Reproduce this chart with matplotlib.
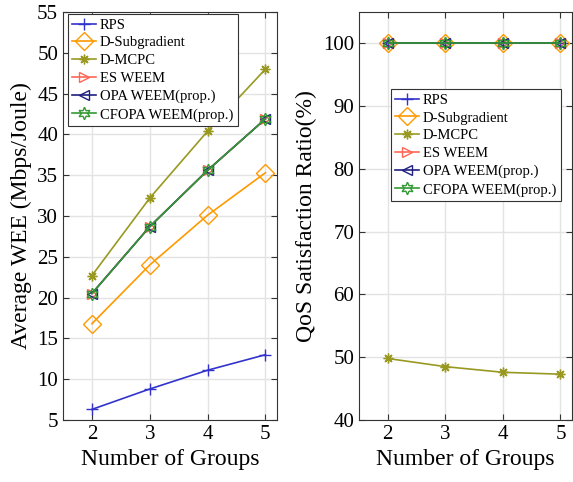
import matplotlib
matplotlib.use("Agg")
import matplotlib.pyplot as plt

# datos
grupos = [2, 3, 4, 5]
wee_rps = [6.3, 8.8, 11.1, 13.0]
wee_dsub = [16.8, 24.0, 30.1, 35.3]
wee_dmcpc = [22.7, 32.2, 40.4, 48.0]
wee_es = [20.5, 28.7, 35.6, 41.9]
wee_opa = [20.5, 28.7, 35.6, 41.9]
wee_cfopa = [20.5, 28.7, 35.6, 41.9]

qos_rps = [100, 100, 100, 100]
qos_dsub = [100, 100, 100, 100]
qos_dmcpc = [49.8, 48.5, 47.6, 47.3]
qos_es = [100, 100, 100, 100]
qos_opa = [100, 100, 100, 100]
qos_cfopa = [100, 100, 100, 100]

etiquetas = ["RPS", "D-Subgradient", "D-MCPC", "ES WEEM",
             "OPA WEEM(prop.)", "CFOPA WEEM(prop.)"]

estilos = [
    dict(color="#3333cc", marker="+", ms=9, mew=1.0),
    dict(color="#ff9900", marker="D", ms=9.5, mfc="none", mew=1.0),
    dict(color="#999922", marker=(8, 2, 0), ms=7, mew=1.0),
    dict(color="#ff6655", marker=">", ms=7, mfc="none", mew=1.0),
    dict(color="#1f1f80", marker="<", ms=7, mfc="none", mew=1.0),
    dict(color="#339933", marker=(6, 1, 0), ms=9, mfc="none", mew=1.0),
]

plt.rcParams["font.family"] = "Liberation Serif"

fig = plt.figure(figsize=(5.73, 4.82), dpi=100)
ax1 = fig.add_axes([63 / 573, 1 - 420 / 482, 214 / 573, 408 / 482])
ax2 = fig.add_axes([359 / 573, 1 - 420 / 482, 213 / 573, 408 / 482])

series1 = [wee_rps, wee_dsub, wee_dmcpc, wee_es, wee_opa, wee_cfopa]
series2 = [qos_rps, qos_dsub, qos_dmcpc, qos_es, qos_opa, qos_cfopa]

for ax, datos in [(ax1, series1), (ax2, series2)]:
    for y, lab, st in zip(datos, etiquetas, estilos):
        ax.plot(grupos, y, lw=1.2, label=lab, **st)
    ax.set_xlim(1.5, 5.2)
    ax.set_xticks(grupos)
    ax.grid(True, color="#e3e3e3", lw=1.0)
    ax.set_axisbelow(True)
    ax.tick_params(direction="in", top=True, right=True, labelsize=15,
                   length=4, color="#333333")
    for s in ax.spines.values():
        s.set_color("#333333")
    ax.set_xlabel("Number of Groups", fontsize=17)

ax1.set_ylim(5, 55)
ax1.set_yticks(range(5, 56, 5))
ax1.set_ylabel("Average WEE (Mbps/Joule)", fontsize=17)

ax2.set_ylim(40, 105)
ax2.set_yticks(range(40, 101, 10))
ax2.set_ylabel("QoS Satisfaction Ratio(%)", fontsize=17)

for ax, pos in [(ax1, (0.023, 0.995)), (ax2, (0.15, 0.811))]:
    leg = ax.legend(loc="upper left", bbox_to_anchor=pos, fontsize=10.5,
                    fancybox=False, framealpha=1, edgecolor="#333333",
                    borderpad=0.3, labelspacing=0.32, handlelength=1.6,
                    handletextpad=0.3, borderaxespad=0.0)
    leg.get_frame().set_linewidth(0.8)

fig.savefig("out.png", dpi=100)
